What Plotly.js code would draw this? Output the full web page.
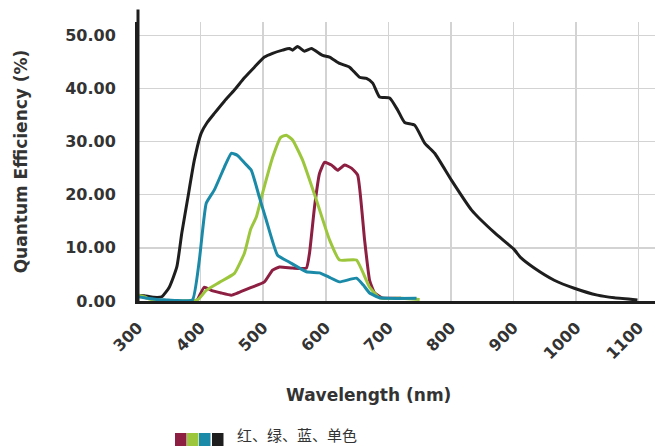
<!DOCTYPE html>
<html>
<head>
<meta charset="utf-8">
<script src="https://cdn.plot.ly/plotly-3.0.1.min.js"></script>
<style>html,body{margin:0;padding:0;background:#fff;}#chart{width:655px;height:446px;}</style>
</head>
<body>
<div id="chart"></div>
<script>
var tickWavelengths = [300, 400, 500, 600, 700, 800, 900, 1000, 1100];
var tickLabels = ["300", "400", "500", "600", "700", "800", "900", "1000", "1100"];

var monoX = [300, 310, 325, 338, 350, 362, 370, 379, 390, 401, 410, 422, 438, 454, 470, 486, 502, 515, 531, 542, 547, 555, 566, 577, 595, 606, 622, 638, 654, 665, 675, 686, 702, 715, 726, 742, 758, 774, 801, 833, 870, 900, 912, 933, 965, 997, 1034, 1061, 1098];
var monoY = [1.1, 1.0, 0.7, 0.8, 2.6, 6.4, 12.8, 19.0, 26.5, 31.6, 33.5, 35.3, 37.6, 39.7, 42.0, 44.0, 45.9, 46.6, 47.2, 47.5, 47.2, 47.9, 47.0, 47.5, 46.2, 45.9, 44.7, 44.0, 42.1, 41.9, 41.0, 38.4, 38.2, 35.9, 33.6, 33.1, 29.7, 27.8, 22.7, 17.1, 12.8, 9.8, 8.1, 6.2, 3.9, 2.4, 1.1, 0.6, 0.2];

var blueX = [300, 315, 330, 345, 360, 387, 398, 409, 422, 438, 449, 459, 470, 481, 494, 505, 523, 542, 569, 590, 605, 622, 649, 660, 670, 686, 700, 745];
var blueY = [0.8, 0.5, 0.3, 0.2, 0.1, 0.2, 7.7, 18.4, 20.9, 25.2, 27.8, 27.4, 26.0, 24.6, 19.5, 15.2, 8.6, 7.3, 5.5, 5.3, 4.5, 3.6, 4.3, 3.0, 1.5, 0.6, 0.5, 0.5];

var greenX = [300, 310, 320, 335, 360, 395, 409, 430, 454, 470, 480, 489, 499, 515, 528, 537, 547, 563, 585, 606, 622, 649, 670, 686, 720, 750];
var greenY = [1.1, 0.8, 0.3, 0.1, 0.0, 0.2, 2.0, 3.5, 5.2, 9.0, 13.5, 15.8, 20.3, 27.0, 30.8, 31.2, 30.3, 26.5, 19.0, 11.5, 7.7, 7.7, 2.6, 0.6, 0.5, 0.3];

var redX = [395, 406, 417, 433, 449, 459, 480, 502, 515, 526, 547, 569, 574, 582, 590, 598, 609, 619, 630, 641, 651, 662, 670, 678, 690, 720];
var redY = [0.2, 2.6, 2.0, 1.5, 1.1, 1.5, 2.5, 3.6, 5.8, 6.4, 6.2, 6.2, 9.0, 17.7, 24.0, 26.1, 25.6, 24.6, 25.6, 25.0, 23.7, 11.5, 3.9, 1.5, 0.6, 0.5];

var seriesNames = ["红", "绿", "蓝", "单色"];
var legendText = "红、绿、蓝、单色";
var colors = {red: "#8c1f42", green: "#9cc63c", blue: "#1a8aa8", mono: "#1e1e1e"};

var lw = 3;
var traces = [
  {x: monoX, y: monoY, name: seriesNames[3], mode: "lines", line: {color: colors.mono, width: lw, shape: "spline", smoothing: 0.5}},
  {x: redX, y: redY, name: seriesNames[0], mode: "lines", line: {color: colors.red, width: lw, shape: "spline", smoothing: 0.4}},
  {x: greenX, y: greenY, name: seriesNames[1], mode: "lines", line: {color: colors.green, width: lw, shape: "spline", smoothing: 0.4}},
  {x: blueX, y: blueY, name: seriesNames[2], mode: "lines", line: {color: colors.blue, width: lw, shape: "spline", smoothing: 0.4}}
];

var fontFam = "DejaVu Sans, sans-serif";
var legendColors = [colors.red, colors.green, colors.blue, colors.mono];
var shapes = [
  {type: "line", xref: "paper", yref: "paper", x0: 0, x1: 0, y0: 0, y1: 1.045, line: {color: "#1e1e1e", width: 3}}
];
// legend swatches (pixel-based paper coords)
var plotL = 138, plotW = 517, plotB = 301, plotH = 279;
function px2x(p) { return (p - plotL) / plotW; }
function py2y(p) { return (plotB - p) / plotH; }
var swX = [175, 187, 199, 212];
for (var i = 0; i < 4; i++) {
  shapes.push({type: "rect", xref: "paper", yref: "paper", x0: px2x(swX[i]), x1: px2x(swX[i] + 11.5), y0: py2y(446), y1: py2y(433), fillcolor: legendColors[i], line: {width: 0}});
}

var layout = {
  width: 655, height: 446,
  margin: {l: plotL, r: 0, t: 22, b: 145},
  paper_bgcolor: "#fff", plot_bgcolor: "#fff",
  showlegend: false,
  xaxis: {
    range: [300, 1126], tickmode: "array", tickvals: tickWavelengths, ticktext: tickLabels,
    tickangle: -45, showgrid: true, gridcolor: "#d3d3d3", gridwidth: 1.5,
    showline: true, linecolor: "#1e1e1e", linewidth: 3, zeroline: false, ticks: "",
    ticklabelstandoff: 8,
    tickfont: {family: fontFam, size: 16, color: "#333", weight: "bold"}
  },
  yaxis: {
    range: [0, 52.5], tick0: 0, dtick: 10, tickformat: ".2f",
    showgrid: true, gridcolor: "#d3d3d3", gridwidth: 1.5,
    showline: true, linecolor: "#1e1e1e", linewidth: 3, zeroline: false, ticks: "",
    ticklabelstandoff: 16,
    tickfont: {family: fontFam, size: 16, color: "#333", weight: "bold"},
    title: {text: "Quantum Efficiency (%)", standoff: 34, font: {family: fontFam, size: 17, color: "#333", weight: "bold"}}
  },
  shapes: shapes,
  annotations: [
    {text: "Wavelength (nm)", xref: "paper", yref: "paper", x: px2x(368), y: py2y(395), xanchor: "center", yanchor: "middle", showarrow: false, font: {family: fontFam, size: 17, color: "#333", weight: "bold"}},
    {text: legendText, xref: "paper", yref: "paper", x: px2x(236), y: py2y(434), xanchor: "left", yanchor: "middle", showarrow: false, borderpad: 0, font: {family: "Noto Sans CJK SC, sans-serif", size: 15, color: "#333"}}
  ]
};

Plotly.newPlot("chart", traces, layout, {displayModeBar: false, staticPlot: true});
</script>
</body>
</html>
